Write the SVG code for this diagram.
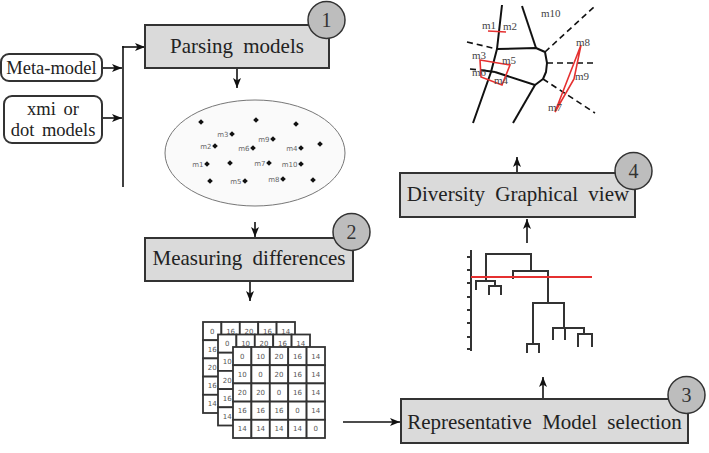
<svg xmlns="http://www.w3.org/2000/svg" width="709" height="453" viewBox="0 0 709 453">
<style>
.box{fill:#dadada;stroke:#333;stroke-width:2}
.side{fill:#fff;stroke:#333;stroke-width:2}
.num{fill:#bdbdbd;stroke:#333;stroke-width:1.5}
.serif{font-family:'Liberation Serif','Times New Roman','DejaVu Serif',serif}
.t{font-size:21px;fill:#222;word-spacing:5px}
.ts{font-size:18.5px;fill:#222;word-spacing:3px}
.tn{font-size:20px;fill:#333;text-anchor:middle}
.c{stroke:#111;stroke-width:1.6;fill:none}
.cell{fill:#fff;stroke:#333;stroke-width:1.8}
.mv{font-family:'DejaVu Sans',sans-serif;font-size:7px;fill:#555;text-anchor:middle}
.dl{font-family:'DejaVu Sans',sans-serif;font-size:7px;fill:#666;text-anchor:end}
.vl{font-size:11px;fill:#444}
.sol{stroke:#111;stroke-width:2;fill:none;stroke-linejoin:round}
.dash{stroke:#111;stroke-width:1.6;fill:none;stroke-dasharray:6 4}
.red{stroke:#e53030;stroke-width:1.6;fill:none}
.den{stroke:#333;stroke-width:2;fill:none}
</style>
<defs>
<marker id="arr" markerUnits="userSpaceOnUse" markerWidth="10" markerHeight="8" refX="10" refY="4" orient="auto">
<path d="M0,0 L10,4 L0,8 L2.5,4 z" fill="#111"/>
</marker>
<path id="dot" d="M0,-2.8 L2.8,0 L0,2.8 L-2.8,0 z" fill="#111"/>
</defs>

<g id="connectors">
<line class="c" x1="102" y1="68" x2="122" y2="68" marker-end="url(#arr)"/>
<line class="c" x1="102" y1="118" x2="122" y2="118" marker-end="url(#arr)"/>
<line class="c" x1="123" y1="46" x2="123" y2="187"/>
<line class="c" x1="122.2" y1="47" x2="145" y2="47" marker-end="url(#arr)"/>
<line class="c" x1="237" y1="69" x2="237" y2="88" marker-end="url(#arr)"/>
<line class="c" x1="255" y1="222" x2="255" y2="237" marker-end="url(#arr)"/>
<line class="c" x1="250" y1="282" x2="250" y2="301" marker-end="url(#arr)"/>
<line class="c" x1="343" y1="422" x2="400" y2="422" marker-end="url(#arr)"/>
<line class="c" x1="543" y1="398" x2="543" y2="377" marker-end="url(#arr)"/>
<line class="c" x1="527" y1="243" x2="527" y2="219" marker-end="url(#arr)"/>
<line class="c" x1="517" y1="172" x2="517" y2="157" marker-end="url(#arr)"/>
</g>

<g id="metamodel">
<rect class="side" x="1" y="54" width="101" height="27" rx="8"/>
<text class="serif ts" font-family="Liberation Serif, Times New Roman, serif" x="51.5" y="74" text-anchor="middle">Meta-model</text>
</g>
<g id="xmi">
<rect class="side" x="4" y="96" width="98" height="47" rx="8"/>
<text class="serif ts" font-family="Liberation Serif, Times New Roman, serif" x="53" y="115" text-anchor="middle">xmi or</text>
<text class="serif ts" font-family="Liberation Serif, Times New Roman, serif" x="53" y="136" text-anchor="middle">dot models</text>
</g>

<g id="parsing">
<rect class="box" x="145" y="25" width="184" height="43"/>
<text class="serif t" font-family="Liberation Serif, Times New Roman, serif" x="237" y="53" text-anchor="middle">Parsing models</text>
<circle class="num" cx="326.5" cy="20" r="18.5"/>
<text class="serif tn" font-family="Liberation Serif, Times New Roman, serif" x="326.5" y="27">1</text>
</g>

<g id="models">
<ellipse cx="255" cy="153" rx="90" ry="53" fill="#fafafa" stroke="#777" stroke-width="1"/>
<use href="#dot" x="201" y="122"/>
<use href="#dot" x="256" y="120"/>
<use href="#dot" x="296" y="124"/>
<use href="#dot" x="232" y="134"/><text class="dl" x="228.5" y="136.5">m3</text>
<use href="#dot" x="273" y="139"/><text class="dl" x="269.5" y="141.5">m9</text>
<use href="#dot" x="215" y="146"/><text class="dl" x="211.5" y="148.5">m2</text>
<use href="#dot" x="253" y="148"/><text class="dl" x="249.5" y="150.5">m6</text>
<use href="#dot" x="301" y="148"/><text class="dl" x="297.5" y="150.5">m4</text>
<use href="#dot" x="320" y="144"/>
<use href="#dot" x="207" y="164"/><text class="dl" x="203.5" y="166.5">m1</text>
<use href="#dot" x="230" y="163"/>
<use href="#dot" x="269" y="163"/><text class="dl" x="265.5" y="165.5">m7</text>
<use href="#dot" x="301" y="164"/><text class="dl" x="297.5" y="166.5">m10</text>
<use href="#dot" x="210" y="181"/>
<use href="#dot" x="245" y="181"/><text class="dl" x="241.5" y="183.5">m5</text>
<use href="#dot" x="283" y="179"/><text class="dl" x="279.5" y="181.5">m8</text>
<use href="#dot" x="313" y="180"/>
</g>

<g id="measuring">
<rect class="box" x="145" y="238" width="208" height="43"/>
<text class="serif t" font-family="Liberation Serif, Times New Roman, serif" x="249" y="265" text-anchor="middle">Measuring differences</text>
<circle class="num" cx="351.5" cy="232" r="18.5"/>
<text class="serif tn" font-family="Liberation Serif, Times New Roman, serif" x="351.5" y="239">2</text>
</g>

<g id="matrices">
<g transform="translate(203,322)">
<rect class="cell" x="0" y="0" width="18.4" height="18.2"/><rect class="cell" x="18.4" y="0" width="18.4" height="18.2"/><rect class="cell" x="36.8" y="0" width="18.4" height="18.2"/><rect class="cell" x="55.2" y="0" width="18.4" height="18.2"/><rect class="cell" x="73.6" y="0" width="18.4" height="18.2"/>
<rect class="cell" x="0" y="18.2" width="18.4" height="18.2"/><rect class="cell" x="0" y="36.4" width="18.4" height="18.2"/><rect class="cell" x="0" y="54.6" width="18.4" height="18.2"/><rect class="cell" x="0" y="72.8" width="18.4" height="18.2"/>
<text class="mv" x="9.2" y="11.6">0</text><text class="mv" x="27.6" y="11.6">16</text><text class="mv" x="46" y="11.6">20</text><text class="mv" x="64.4" y="11.6">16</text><text class="mv" x="82.8" y="11.6">14</text>
<text class="mv" x="9.2" y="29.8">16</text><text class="mv" x="9.2" y="48">20</text><text class="mv" x="9.2" y="66.2">16</text><text class="mv" x="9.2" y="84.4">14</text>
</g>
<g transform="translate(218,334.5)">
<rect class="cell" x="0" y="0" width="18.4" height="18.2"/><rect class="cell" x="18.4" y="0" width="18.4" height="18.2"/><rect class="cell" x="36.8" y="0" width="18.4" height="18.2"/><rect class="cell" x="55.2" y="0" width="18.4" height="18.2"/><rect class="cell" x="73.6" y="0" width="18.4" height="18.2"/>
<rect class="cell" x="0" y="18.2" width="18.4" height="18.2"/><rect class="cell" x="0" y="36.4" width="18.4" height="18.2"/><rect class="cell" x="0" y="54.6" width="18.4" height="18.2"/><rect class="cell" x="0" y="72.8" width="18.4" height="18.2"/>
<text class="mv" x="9.2" y="11.6">0</text><text class="mv" x="27.6" y="11.6">10</text><text class="mv" x="46" y="11.6">20</text><text class="mv" x="64.4" y="11.6">16</text><text class="mv" x="82.8" y="11.6">14</text>
<text class="mv" x="9.2" y="29.8">10</text><text class="mv" x="9.2" y="48">20</text><text class="mv" x="9.2" y="66.2">16</text><text class="mv" x="9.2" y="84.4">14</text>
</g>
<g transform="translate(233,347)">
<rect class="cell" x="0" y="0" width="18.4" height="18.2"/><rect class="cell" x="18.4" y="0" width="18.4" height="18.2"/><rect class="cell" x="36.8" y="0" width="18.4" height="18.2"/><rect class="cell" x="55.2" y="0" width="18.4" height="18.2"/><rect class="cell" x="73.6" y="0" width="18.4" height="18.2"/>
<rect class="cell" x="0" y="18.2" width="18.4" height="18.2"/><rect class="cell" x="18.4" y="18.2" width="18.4" height="18.2"/><rect class="cell" x="36.8" y="18.2" width="18.4" height="18.2"/><rect class="cell" x="55.2" y="18.2" width="18.4" height="18.2"/><rect class="cell" x="73.6" y="18.2" width="18.4" height="18.2"/>
<rect class="cell" x="0" y="36.4" width="18.4" height="18.2"/><rect class="cell" x="18.4" y="36.4" width="18.4" height="18.2"/><rect class="cell" x="36.8" y="36.4" width="18.4" height="18.2"/><rect class="cell" x="55.2" y="36.4" width="18.4" height="18.2"/><rect class="cell" x="73.6" y="36.4" width="18.4" height="18.2"/>
<rect class="cell" x="0" y="54.6" width="18.4" height="18.2"/><rect class="cell" x="18.4" y="54.6" width="18.4" height="18.2"/><rect class="cell" x="36.8" y="54.6" width="18.4" height="18.2"/><rect class="cell" x="55.2" y="54.6" width="18.4" height="18.2"/><rect class="cell" x="73.6" y="54.6" width="18.4" height="18.2"/>
<rect class="cell" x="0" y="72.8" width="18.4" height="18.2"/><rect class="cell" x="18.4" y="72.8" width="18.4" height="18.2"/><rect class="cell" x="36.8" y="72.8" width="18.4" height="18.2"/><rect class="cell" x="55.2" y="72.8" width="18.4" height="18.2"/><rect class="cell" x="73.6" y="72.8" width="18.4" height="18.2"/>
<text class="mv" x="9.2" y="11.6">0</text><text class="mv" x="27.6" y="11.6">10</text><text class="mv" x="46" y="11.6">20</text><text class="mv" x="64.4" y="11.6">16</text><text class="mv" x="82.8" y="11.6">14</text>
<text class="mv" x="9.2" y="29.8">10</text><text class="mv" x="27.6" y="29.8">0</text><text class="mv" x="46" y="29.8">20</text><text class="mv" x="64.4" y="29.8">16</text><text class="mv" x="82.8" y="29.8">14</text>
<text class="mv" x="9.2" y="48">20</text><text class="mv" x="27.6" y="48">20</text><text class="mv" x="46" y="48">0</text><text class="mv" x="64.4" y="48">16</text><text class="mv" x="82.8" y="48">14</text>
<text class="mv" x="9.2" y="66.2">16</text><text class="mv" x="27.6" y="66.2">16</text><text class="mv" x="46" y="66.2">16</text><text class="mv" x="64.4" y="66.2">0</text><text class="mv" x="82.8" y="66.2">14</text>
<text class="mv" x="9.2" y="84.4">14</text><text class="mv" x="27.6" y="84.4">14</text><text class="mv" x="46" y="84.4">14</text><text class="mv" x="64.4" y="84.4">14</text><text class="mv" x="82.8" y="84.4">0</text>
</g>
</g>

<g id="representative">
<rect class="box" x="401" y="399" width="287" height="44"/>
<text class="serif t" font-family="Liberation Serif, Times New Roman, serif" x="544.5" y="429" text-anchor="middle">Representative Model selection</text>
<circle class="num" cx="686.5" cy="395" r="18.5"/>
<text class="serif tn" font-family="Liberation Serif, Times New Roman, serif" x="686.5" y="402">3</text>
</g>

<g id="dendrogram">
<line class="den" x1="471" y1="250" x2="471" y2="351"/>
<path class="den" stroke-width="1" d="M467,257H471M467,270H471M467,283H471M467,297H471M467,310H471M467,323H471M467,337H471M467,349H471"/>
<path class="den" d="M486,281V254H531V271"/>
<path class="den" d="M476,290V281H495V286"/>
<path class="den" d="M489,295V286H501V295"/>
<path class="den" d="M513,279V271H548V303"/>
<path class="den" d="M533,344V303H564V328"/>
<path class="den" d="M527,353V344H539V353"/>
<path class="den" d="M553,340V328H584V334"/>
<path class="den" d="M565,328V340"/>
<path class="den" d="M578,347V334H592V347"/>
<line x1="471" y1="277" x2="592" y2="277" stroke="#e53030" stroke-width="2"/>
</g>

<g id="diversity">
<rect class="box" x="400" y="173" width="235" height="44"/>
<text class="serif t" font-family="Liberation Serif, Times New Roman, serif" x="518" y="201" text-anchor="middle">Diversity Graphical view</text>
<circle class="num" cx="633.5" cy="171" r="18.5"/>
<text class="serif tn" font-family="Liberation Serif, Times New Roman, serif" x="633.5" y="178">4</text>
</g>

<g id="voronoi">
<path class="sol" d="M502,5L497,49L491,72L473,123"/>
<path class="sol" d="M522,6L536,48"/>
<path class="sol" d="M497,49L536,48L545,52L547,63L546,72L543,79L535,85L495,72"/>
<path class="sol" d="M535,85L513,123"/>
<path class="sol" d="M480,70L495,72"/>
<path class="dash" d="M467,42L497,49"/>
<path class="dash" d="M470,69L480,70"/>
<path class="dash" d="M545,52L595,6"/>
<path class="dash" d="M547,63L595,63"/>
<path class="dash" d="M543,79L595,113"/>
<line class="red" x1="488" y1="31" x2="506" y2="32"/>
<polygon class="red" points="480,60 510,65 502,85 481,77"/>
<polygon class="red" points="581,45 574,79 555,112"/>
<g class="serif vl" font-family="Liberation Serif, Times New Roman, serif">
<text x="482" y="29">m1</text>
<text x="503" y="30">m2</text>
<text x="541" y="17">m10</text>
<text x="472" y="59">m3</text>
<text x="502" y="64">m5</text>
<text x="472" y="76">m6</text>
<text x="494" y="84">m4</text>
<text x="576" y="46">m8</text>
<text x="575" y="80">m9</text>
<text x="548" y="111">m7</text>
</g>
</g>
</svg>
